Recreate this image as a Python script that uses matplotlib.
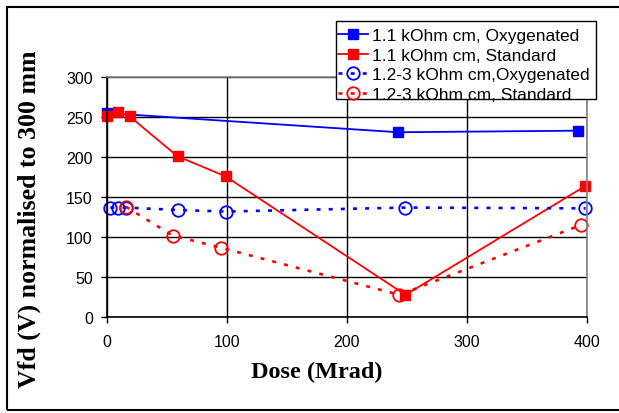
import numpy as np
import matplotlib.pyplot as plt
from matplotlib.patches import Rectangle

# Vfd versus dose for four sample types
dose_ox_11 = [0, 243, 393]
vfd_ox_11 = [255, 231, 233]

dose_std_11 = [0, 9, 19, 59, 99, 249, 399]
vfd_std_11 = [251, 256, 251, 201, 176, 28, 164]

dose_ox_123 = [3, 9, 16, 59, 99, 249, 399]
vfd_ox_123 = [137, 137, 137, 134, 132, 137, 136]

dose_std_123 = [16, 55, 95, 244, 395]
vfd_std_123 = [138, 102, 87, 28, 115]

labels = ['1.1 kOhm cm, Oxygenated', '1.1 kOhm cm, Standard',
          '1.2-3 kOhm cm,Oxygenated', '1.2-3 kOhm cm, Standard']

W, H = 619, 414
plt.rcParams['font.family'] = ['Liberation Sans', 'DejaVu Sans']

fig = plt.figure(figsize=(W / 100, H / 100), dpi=100)
ax = fig.add_axes([0.1724, 0.2312, 0.7754, 0.5804])

dots = (0, (1.5, 3.1))
ax.plot(dose_ox_11, vfd_ox_11, color='#0000ff', lw=1.3, marker='s', ms=7.2,
        label=labels[0], clip_on=False)
ax.plot(dose_std_11, vfd_std_11, color='#ff0000', lw=1.3, marker='s', ms=7.2,
        label=labels[1], clip_on=False)
ax.plot(dose_ox_123, vfd_ox_123, color='#0000ff', lw=1.9, ls=dots, marker='o',
        ms=9, mfc='none', mew=1.3, label=labels[2], clip_on=False)
ax.plot(dose_std_123, vfd_std_123, color='#ff0000', lw=1.9, ls=dots, marker='o',
        ms=9, mfc='none', mew=1.3, label=labels[3], clip_on=False)

ax.set_xlim(0, 400)
ax.set_ylim(0, 300)
ax.set_xticks([0, 100, 200, 300, 400])
ax.set_yticks(np.arange(0, 301, 50))
ax.grid(True, color='black', lw=1.0)
ax.set_axisbelow(True)
ax.tick_params(labelsize=11.5, length=4, width=1, color='black')
ax.tick_params(axis='x', pad=8)
ax.tick_params(axis='y', pad=6)
ax.spines['left'].set_color('black')
ax.spines['bottom'].set_color('black')
ax.spines['top'].set_color('#808080')
ax.spines['right'].set_color('#808080')
for s in ax.spines.values():
    s.set_linewidth(1.2)

fig.text(0.048, 1 - 219 / H, 'Vfd (V) normalised to 300 mm', rotation=90,
         ha='center', va='center', family='Liberation Serif',
         fontweight='bold', fontsize=18.6)
fig.text(0.511, 0.101, 'Dose (Mrad)', ha='center', va='center',
         family='Liberation Serif', fontweight='bold', fontsize=17.5)

# legend box drawn separately so the last row runs into its bottom edge
box = Rectangle((336 / W, 1 - 100 / H), 260 / W, 78 / H,
                transform=fig.transFigure, facecolor='white',
                edgecolor='black', lw=1.0, zorder=4)
fig.patches.append(box)
leg = fig.legend(loc='upper left', bbox_to_anchor=(338 / W, 1 - 29 / H),
                 fontsize=12.5, frameon=False, borderpad=0, labelspacing=0.25,
                 handlelength=1.75, handletextpad=0.2, borderaxespad=0)
leg.set_zorder(5)

# outer border around the chart
fig.patches.append(Rectangle((7 / W, 1 - 411 / H), 1.2, (411 - 8) / H,
                             transform=fig.transFigure, fill=False,
                             edgecolor='black', lw=1.5))

fig.savefig('out.png', dpi=100)
